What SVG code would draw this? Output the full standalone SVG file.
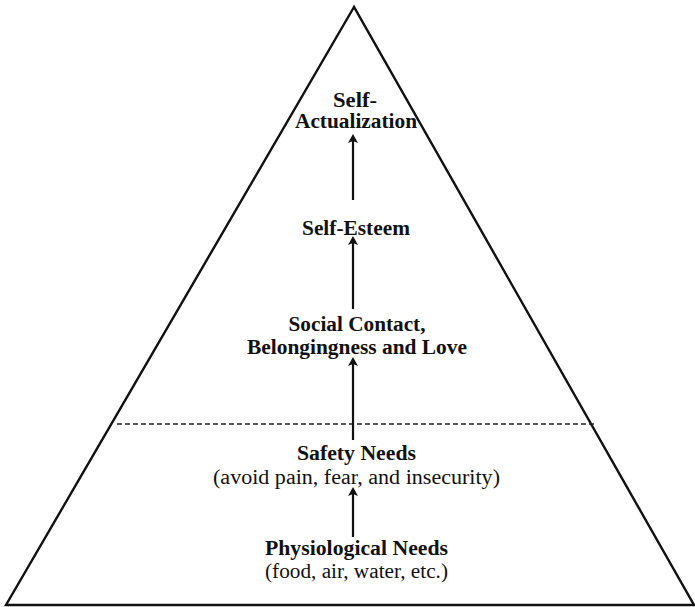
<svg xmlns="http://www.w3.org/2000/svg" width="695" height="607" viewBox="0 0 695 607">
  <style>
    .lbl { font-family: "Liberation Serif", "DejaVu Serif", serif; font-size: 20px; fill: #111; text-anchor: middle; }
    .b { font-weight: bold; }
    .edge { stroke: #111; stroke-width: 2.4; fill: none; }
    .conn { stroke: #111; stroke-width: 2.2; fill: none; marker-end: url(#head); }
  </style>
  <defs>
    <marker id="head" markerWidth="10" markerHeight="10" refX="5" refY="5" orient="auto" markerUnits="userSpaceOnUse">
      <path d="M0,9 L5,0 L10,9 L5,7 Z" transform="rotate(90 5 5)" fill="#111"/>
    </marker>
  </defs>
  <rect width="695" height="607" fill="#fff"/>

  <!-- pyramid outline and the dashed divider -->
  <g id="pyramid">
    <path class="edge" d="M354,7 L6,605 L694,605 Z"/>
    <line x1="117" y1="424" x2="597" y2="424" stroke="#222" stroke-width="1.5" stroke-dasharray="5,3"/>
  </g>

  <g id="self-actualization">
    <text class="lbl b" x="355" y="107" textLength="44" lengthAdjust="spacingAndGlyphs">Self-</text>
    <text class="lbl b" x="356" y="128" textLength="122" lengthAdjust="spacingAndGlyphs">Actualization</text>
  </g>
  <g id="self-esteem">
    <text class="lbl b" x="356" y="235" textLength="108" lengthAdjust="spacingAndGlyphs">Self-Esteem</text>
  </g>
  <g id="social-contact">
    <text class="lbl b" x="357" y="331" textLength="137" lengthAdjust="spacingAndGlyphs">Social Contact,</text>
    <text class="lbl b" x="357" y="354" textLength="220" lengthAdjust="spacingAndGlyphs">Belongingness and Love</text>
  </g>
  <g id="safety-needs">
    <text class="lbl b" x="356.5" y="460" textLength="119" lengthAdjust="spacingAndGlyphs">Safety Needs</text>
    <text class="lbl" x="356.5" y="484" textLength="287" lengthAdjust="spacingAndGlyphs">(avoid pain, fear, and insecurity)</text>
  </g>
  <g id="physiological-needs">
    <text class="lbl b" x="356.5" y="555" textLength="183" lengthAdjust="spacingAndGlyphs">Physiological Needs</text>
    <text class="lbl" x="356.5" y="578" textLength="183" lengthAdjust="spacingAndGlyphs">(food, air, water, etc.)</text>
  </g>

  <g id="connectors">
    <line class="conn" x1="353" y1="200" x2="353" y2="139"/>
    <line class="conn" x1="353" y1="309" x2="353" y2="241"/>
    <line class="conn" x1="353" y1="440" x2="353" y2="362"/>
    <line class="conn" x1="353" y1="537" x2="353" y2="492"/>
  </g>
</svg>
